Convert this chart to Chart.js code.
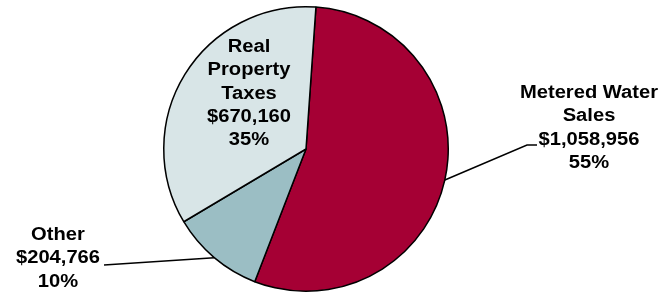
<!DOCTYPE html>
<html>
<head>
<meta charset="utf-8">
<script src="https://cdn.jsdelivr.net/npm/chart.js@4.4.1/dist/chart.umd.min.js"></script>
<style>
  html, body { margin: 0; padding: 0; background: #fff; }
  #wrap { width: 670px; height: 293px; position: relative; }
</style>
</head>
<body>
<div id="wrap"><canvas id="pie"></canvas></div>
<script>
// revenue sources, clockwise from the top
const labels = ['Metered Water Sales', 'Other', 'Real Property Taxes'];
const values = [1058956, 204766, 670160];
const percents = [55, 10, 35];
const colours = ['#A50034', '#9BBEC4', '#D8E5E7'];

// where each label sits (text centre x, first line y); leader = elbow point near the text
const labelLayout = [
  { x: 589, y: 93, lines: ['Metered Water', 'Sales'], leader: [[527, 145], [537, 145]] },
  { x: 58, y: 235, lines: ['Other'], leader: [[104, 265]] },
  { x: 249, y: 47, lines: ['Real', 'Property', 'Taxes'], leader: null }
];

const money = v => '$' + v.toLocaleString('en-US');

const pieLabels = {
  id: 'pieLabels',
  afterDatasetsDraw(chart) {
    const ctx = chart.ctx;
    const arcs = chart.getDatasetMeta(0).data;
    ctx.save();
    ctx.fillStyle = '#000';
    ctx.strokeStyle = '#000';
    ctx.lineWidth = 1.5;
    ctx.font = 'bold 18px "Liberation Sans", Arial, sans-serif';
    ctx.textAlign = 'center';
    ctx.textBaseline = 'middle';
    labelLayout.forEach((lay, i) => {
      const arc = arcs[i];
      if (lay.leader) {
        const mid = (arc.startAngle + arc.endAngle) / 2;
        ctx.beginPath();
        ctx.moveTo(arc.x + Math.cos(mid) * arc.outerRadius, arc.y + Math.sin(mid) * arc.outerRadius);
        lay.leader.forEach(p => ctx.lineTo(p[0], p[1]));
        ctx.stroke();
      }
      const lines = lay.lines.concat([money(values[i]), percents[i] + '%']);
      lines.forEach((t, k) => {
        ctx.save();
        ctx.translate(lay.x, lay.y + k * 23.3);
        ctx.scale(1.12, 1); // source text is a bit wide
        ctx.fillText(t, 0, 0);
        ctx.restore();
      });
    });
    ctx.restore();
  }
};

new Chart(document.getElementById('pie').getContext('2d'), {
  type: 'pie',
  data: {
    labels: labels,
    datasets: [{
      data: values,
      backgroundColor: colours,
      borderColor: '#000',
      borderWidth: 1.5
    }]
  },
  options: {
    responsive: true,
    maintainAspectRatio: false,
    animation: false,
    rotation: 4,
    layout: { padding: { left: 0, right: 58, top: 6, bottom: 1 } },
    plugins: {
      legend: { display: false },
      tooltip: { enabled: false }
    }
  },
  plugins: [pieLabels]
});
</script>
</body>
</html>
